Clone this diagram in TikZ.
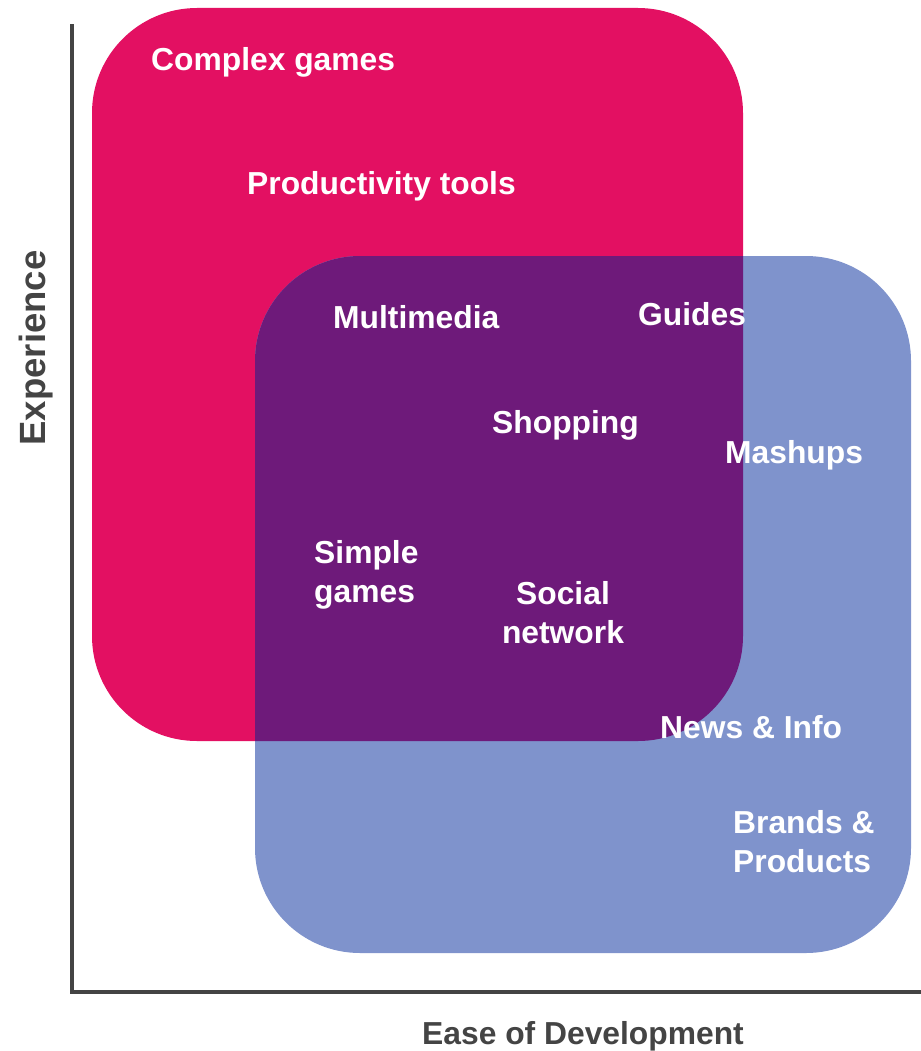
\documentclass[tikz,border=0pt]{standalone}
\usepackage{fontspec}
\setmainfont{Liberation Sans}
\definecolor{pinkc}{HTML}{E31062}
\definecolor{bluec}{HTML}{7F93CC}
\definecolor{purpc}{HTML}{6E1A7A}
\definecolor{axisc}{HTML}{444444}
\tikzset{
  lbl/.style={text=white, font=\fontsize{31.8}{39}\selectfont\bfseries, inner sep=0pt, align=left},
  axlbl/.style={text=axisc, font=\fontsize{31.8}{39}\selectfont\bfseries, inner sep=0pt},
  axisline/.style={draw=axisc, line width=4pt, line cap=rect}
}
\begin{document}
\begin{tikzpicture}[x=1pt,y=-1pt]
\useasboundingbox (0,0) rectangle (920,1051);
% regions
\fill[pinkc, rounded corners=105pt] (92,8) rectangle (743,741);
\fill[bluec, rounded corners=105pt] (255,256) rectangle (911,953);
\begin{scope}
  \clip[rounded corners=105pt] (92,8) rectangle (743,741);
  \fill[purpc, rounded corners=105pt] (255,256) rectangle (911,953);
\end{scope}
% axes
\coordinate (top) at (72,26);
\coordinate (orig) at (72,992);
\coordinate (right) at (922,992);
\draw[axisline] (top) -- (orig) -- (right);
% labels
\node[lbl, anchor=base west] (cg) at (151,71) {Complex games};
\node[lbl, anchor=base west] (pt) at (247,194) {Productivity tools};
\node[lbl, anchor=base west] (mm) at (333,328) {Multimedia};
\node[lbl, anchor=base west] (gd) at (638,325) {Guides};
\node[lbl, anchor=base west] (sh) at (492,433) {Shopping};
\node[lbl, anchor=base west] (ms) at (725,463) {Mashups};
\node[lbl, anchor=base west] (sg) at (314,602) {Simple\\games};
\node[lbl, anchor=base, align=center] (sn) at (563,643) {Social\\network};
\node[lbl, anchor=base west] (ni) at (660,738) {News \& Info};
\node[lbl, anchor=base west] (bp) at (733,872) {Brands \&\\Products};
\node[axlbl, anchor=base] (xl) at (583,1044) {Ease of Development};
\node[axlbl, anchor=base, rotate=90, font=\fontsize{36.5}{44}\selectfont\bfseries] (yl) at (45,348) {Experience};
\end{tikzpicture}
\end{document}
